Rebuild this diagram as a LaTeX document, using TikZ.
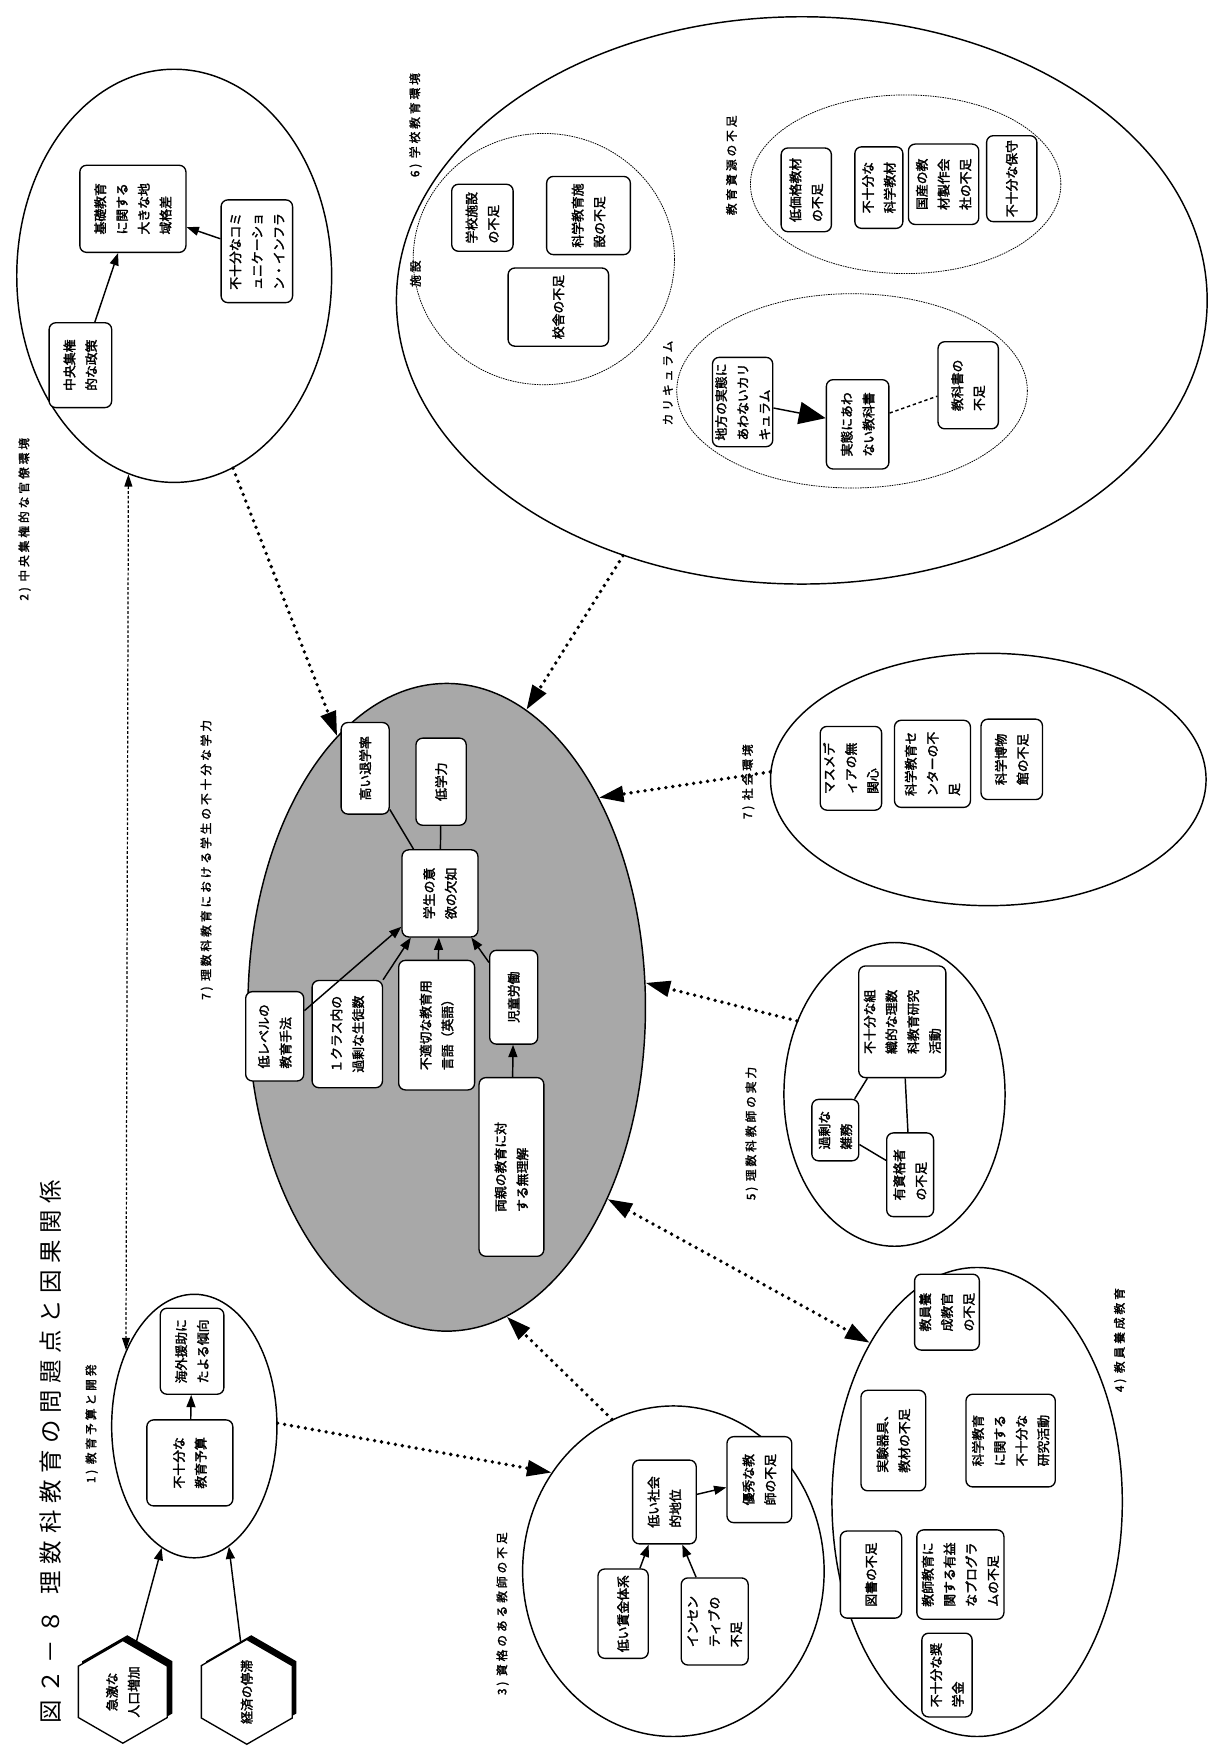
\documentclass[tikz,border=0pt]{standalone}
\usepackage{fontspec}
\usetikzlibrary{shapes.geometric,arrows.meta}
\newfontfamily\jpb{Noto Sans CJK JP}[FakeBold=2.2]
\newfontfamily\jplab{Noto Sans CJK JP}[FakeBold=2,LetterSpace=25]
\newfontfamily\jpt{Noto Sans CJK JP}[LetterSpace=28]
\newcommand\bxfont{\jpb\fontsize{11.5}{19.5}\selectfont}
\newcommand\lbfont{\jplab\fontsize{10.5}{12}\selectfont}
\newcommand\ttlfont{\jpt\fontsize{21}{24}\selectfont}
\tikzset{
  box/.style={draw, line width=1.2pt, rounded corners=6pt, fill=white, rotate=90, inner sep=1.5pt, align=left, font=\bxfont},
  sz/.style 2 args={minimum height=#1, minimum width=#2},
  ell/.style={draw, ellipse, line width=1.3pt, inner sep=0pt},
  subell/.style={draw, ellipse, line width=0.7pt, dash pattern=on 1.4pt off 0.8pt, inner sep=0pt},
  lab/.style={rotate=90, font=\lbfont, inner sep=0pt},
  arr/.style={line width=1.3pt, -{Triangle[length=11pt,width=8pt]}},
  bigarr/.style={line width=1.3pt, -{Triangle[length=24pt,width=20pt]}},
  dots/.style={line width=3.4pt, line cap=round, dash pattern=on 0pt off 6.3pt, -{Triangle[length=22pt,width=14pt]}},
  dotsboth/.style={line width=3.4pt, line cap=round, dash pattern=on 0pt off 6.3pt, {Triangle[length=22pt,width=14pt]}-{Triangle[length=22pt,width=14pt]}},
  dashln/.style={line width=1.1pt, dash pattern=on 2.5pt off 1.8pt, {Triangle[length=11pt,width=7pt]}-{Triangle[length=11pt,width=7pt]}},
  conn/.style={line width=1.3pt},
  dconn/.style={line width=1.3pt, dash pattern=on 3pt off 2.5pt},
  hex/.style={regular polygon, regular polygon sides=6, draw, line width=1.2pt, fill=white, minimum size=92pt, inner sep=0pt, rotate=90, align=center, font=\bxfont},
  hexsh/.style={regular polygon, regular polygon sides=6, draw, fill=black, line width=1.2pt, minimum size=92pt, inner sep=0pt, rotate=90},
}
\begin{document}
\begin{tikzpicture}[x=1pt,y=-1pt]
\fill[white] (0,0) rectangle (1091,1568);
\useasboundingbox (0,0) rectangle (1091,1568);

% title
\node[rotate=90, font=\ttlfont, inner sep=0pt] (title) at (45,1300) {図２－８\hspace{14pt}理数科教育の問題点と因果関係};

% 2) central bureaucracy
\node[ell, minimum width=282, minimum height=370] (e2) at (156,247) {};
\node[box, sz={95}{78}] (kiso) at (119,187) {基礎教育\\に関する\\大きな地\\域格差};
\node[box, sz={64}{92}] (comm) at (230,225) {不十分なコミ\\ュニケーショ\\ン・インフラ};
\node[box, sz={56}{76}] (chuo) at (72,327) {中央集権\\的な政策};
\draw[arr] (chuo) -- (kiso);
\draw[arr] (comm) -- (kiso);
\node[lab] (l2) at (22,465) {2) 中央集権的な官僚環境};

% 6) school environment
\node[ell, minimum width=726, minimum height=508] (e6) at (718,269) {};
\node[lab] (l6) at (372,112) {6) 学校教育環境};
\node[subell, minimum width=234, minimum height=225] (fac) at (487,232) {};
\node[lab] (lfac) at (372,245) {施設};
\node[box, sz={55}{60}] (gakko) at (432,195) {学校施設\\の不足};
\node[box, sz={75}{70}] (kshisetsu) at (527,193) {科学教育施\\設の不足};
\node[box, sz={90}{70}] (kosha) at (500,275) {校舎の不足};
\node[lab] (lres) at (655,148) {教育資源の不足};
\node[subell, minimum width=278, minimum height=160] (res) at (811,165) {};
\node[box, sz={45}{75}] (teika) at (722,170) {低価格教材\\の不足};
\node[box, sz={43}{73}] (kyozai) at (787,168) {不十分な\\科学教材};
\node[box, sz={63}{72}] (kokusan) at (845,165) {国産の教\\材製作会\\社の不足};
\node[box, sz={45}{77}] (hoshu) at (906,160) {不十分な保守};
\node[lab] (lcur) at (598,343) {カリキュラム};
\node[subell, minimum width=314, minimum height=174] (cur) at (763,350) {};
\node[box, sz={54}{80}] (chiho) at (665,360) {地方の実態に\\あわないカリ\\キュラム};
\node[box, sz={56}{80}] (jittai) at (768,380) {実態にあわ\\ない教科書};
\node[box, sz={54}{78}] (kyokasho) at (867,345) {教科書の\\不足};
\draw[bigarr] (chiho) -- (jittai);
\draw[dconn] (jittai) -- (kyokasho);

% 7) central problem (grey)
\node[ell, fill=black!34, minimum width=356, minimum height=580] (g) at (400,902) {};
\node[lab] (l7) at (185,770) {7) 理数科教育における学生の不十分な学力};
\node[box, sz={43}{82}] (taigaku) at (327,688) {高い退学率};
\node[box, sz={45}{78}] (gakuryoku) at (395,700) {低学力};
\node[box, sz={68}{78}] (iyoku) at (394,800) {学生の意\\欲の欠如};
\node[box, sz={52}{80}] (level) at (246,928) {低レベルの\\教育手法};
\node[box, sz={63}{96}] (class) at (311,926) {１クラス内の\\過剰な生徒数};
\node[box, sz={68}{116}] (gengo) at (391,918) {不適切な教育用\\言語（英語）};
\node[box, sz={43}{84}] (jido) at (460,893) {児童労働};
\node[box, sz={58}{160}] (ryoshin) at (458,1045) {両親の教育に対\\する無理解};
\draw[conn] (iyoku) -- (taigaku);
\draw[conn] (iyoku) -- (gakuryoku);
\draw[arr] (level) -- (iyoku);
\draw[arr] (class) -- (iyoku);
\draw[arr] (gengo) -- (iyoku);
\draw[arr] (jido) -- (iyoku);
\draw[arr] (ryoshin) -- (jido);

% 7) social environment
\node[ell, minimum width=390, minimum height=226] (e7) at (885,698) {};
\node[lab] (l7s) at (670,700) {7) 社会環境};
\node[box, sz={55}{75}] (masu) at (762,688) {マスメデ\\ィアの無\\関心};
\node[box, sz={68}{78}] (center) at (835,684) {科学教育セ\\ンターの不\\足};
\node[box, sz={55}{72}] (hakub) at (906,680) {科学博物\\館の不足};

% 5) teachers' ability
\node[ell, minimum width=198, minimum height=272] (e5) at (801,980) {};
\node[lab] (l5) at (673,1015) {5) 理数科教師の実力};
\node[box, sz={78}{100}] (soshiki) at (808,915) {不十分な組\\織的な理数\\科教育研究\\活動};
\node[box, sz={42}{55}] (zatsumu) at (748,1012) {過剰な\\雑務};
\node[box, sz={42}{75}] (yushi) at (815,1052) {有資格者\\の不足};
\draw[conn] (soshiki) -- (zatsumu);
\draw[conn] (soshiki) -- (yushi);
\draw[conn] (zatsumu) -- (yushi);

% 4) teacher training
\node[ell, minimum width=260, minimum height=420] (e4) at (875,1345) {};
\node[lab] (l4) at (1003,1200) {4) 教員養成教育};
\node[box, sz={58}{68}] (yosei) at (848,1175) {教員養\\成教官\\の不足};
\node[box, sz={58}{90}] (jikken) at (800,1290) {実験器具、\\教材の不足};
\node[box, sz={80}{83}] (kenkyu) at (905,1290) {科学教育\\に関する\\不十分な\\研究活動};
\node[box, sz={55}{78}] (tosho) at (780,1410) {図書の不足};
\node[box, sz={78}{80}] (program) at (860,1410) {教師教育に\\関する有益\\なプログラ\\ムの不足};
\node[box, sz={45}{75}] (shogaku) at (848,1500) {不十分な奨\\学金};

% 3) qualified teachers
\node[ell, minimum width=270, minimum height=296] (e3) at (603,1407) {};
\node[lab] (l3) at (450,1445) {3) 資格のある教師の不足};
\node[box, sz={57}{75}] (shakai) at (595,1345) {低い社会\\的地位};
\node[box, sz={58}{77}] (yushu) at (680,1325) {優秀な教\\師の不足};
\node[box, sz={45}{80}] (chingin) at (558,1445) {低い賃金体系};
\node[box, sz={60}{78}] (incent) at (640,1452) {インセン\\ティブの\\不足};
\draw[arr] (shakai) -- (yushu);
\draw[arr] (chingin) -- (shakai);
\draw[arr] (incent) -- (shakai);

% 1) budget
\node[ell, minimum width=148, minimum height=236] (e1) at (174,1277) {};
\node[lab] (l1) at (82,1275) {1) 教育予算と開発};
\node[box, sz={57}{77}] (kaigai) at (172,1210) {海外援助に\\たよる傾向};
\node[box, sz={77}{77}] (yosan) at (170,1310) {不十分な\\教育予算};
\draw[arr] (yosan) -- (kaigai);
\node[hexsh] (h1s) at (114,1511) {};
\node[hex] (h1) at (110,1515) {急激な\\人口増加};
\node[hexsh] (h2s) at (225,1511) {};
\node[hex] (h2) at (221,1515) {経済の停滞};
\draw[arr] (h1) -- (e1.255);
\draw[arr] (h2) -- (e1.286);

% thick dotted connectors
\draw[dots] (e2.287) -- (g.112);
\draw[dots] (e6.235) -- (g.75);
\draw[dots] (e7.178) -- (g.54);
\draw[dots] (e5.143) -- (g.7);
\draw[dotsboth] (g.310) -- (e4.124);
\draw[dots] (e3.112) -- (g.281);
\draw[dots] (e1.2) -- (e3.141);
\draw[dashln] (e2.257) -- (e1.132);
\end{tikzpicture}
\end{document}
